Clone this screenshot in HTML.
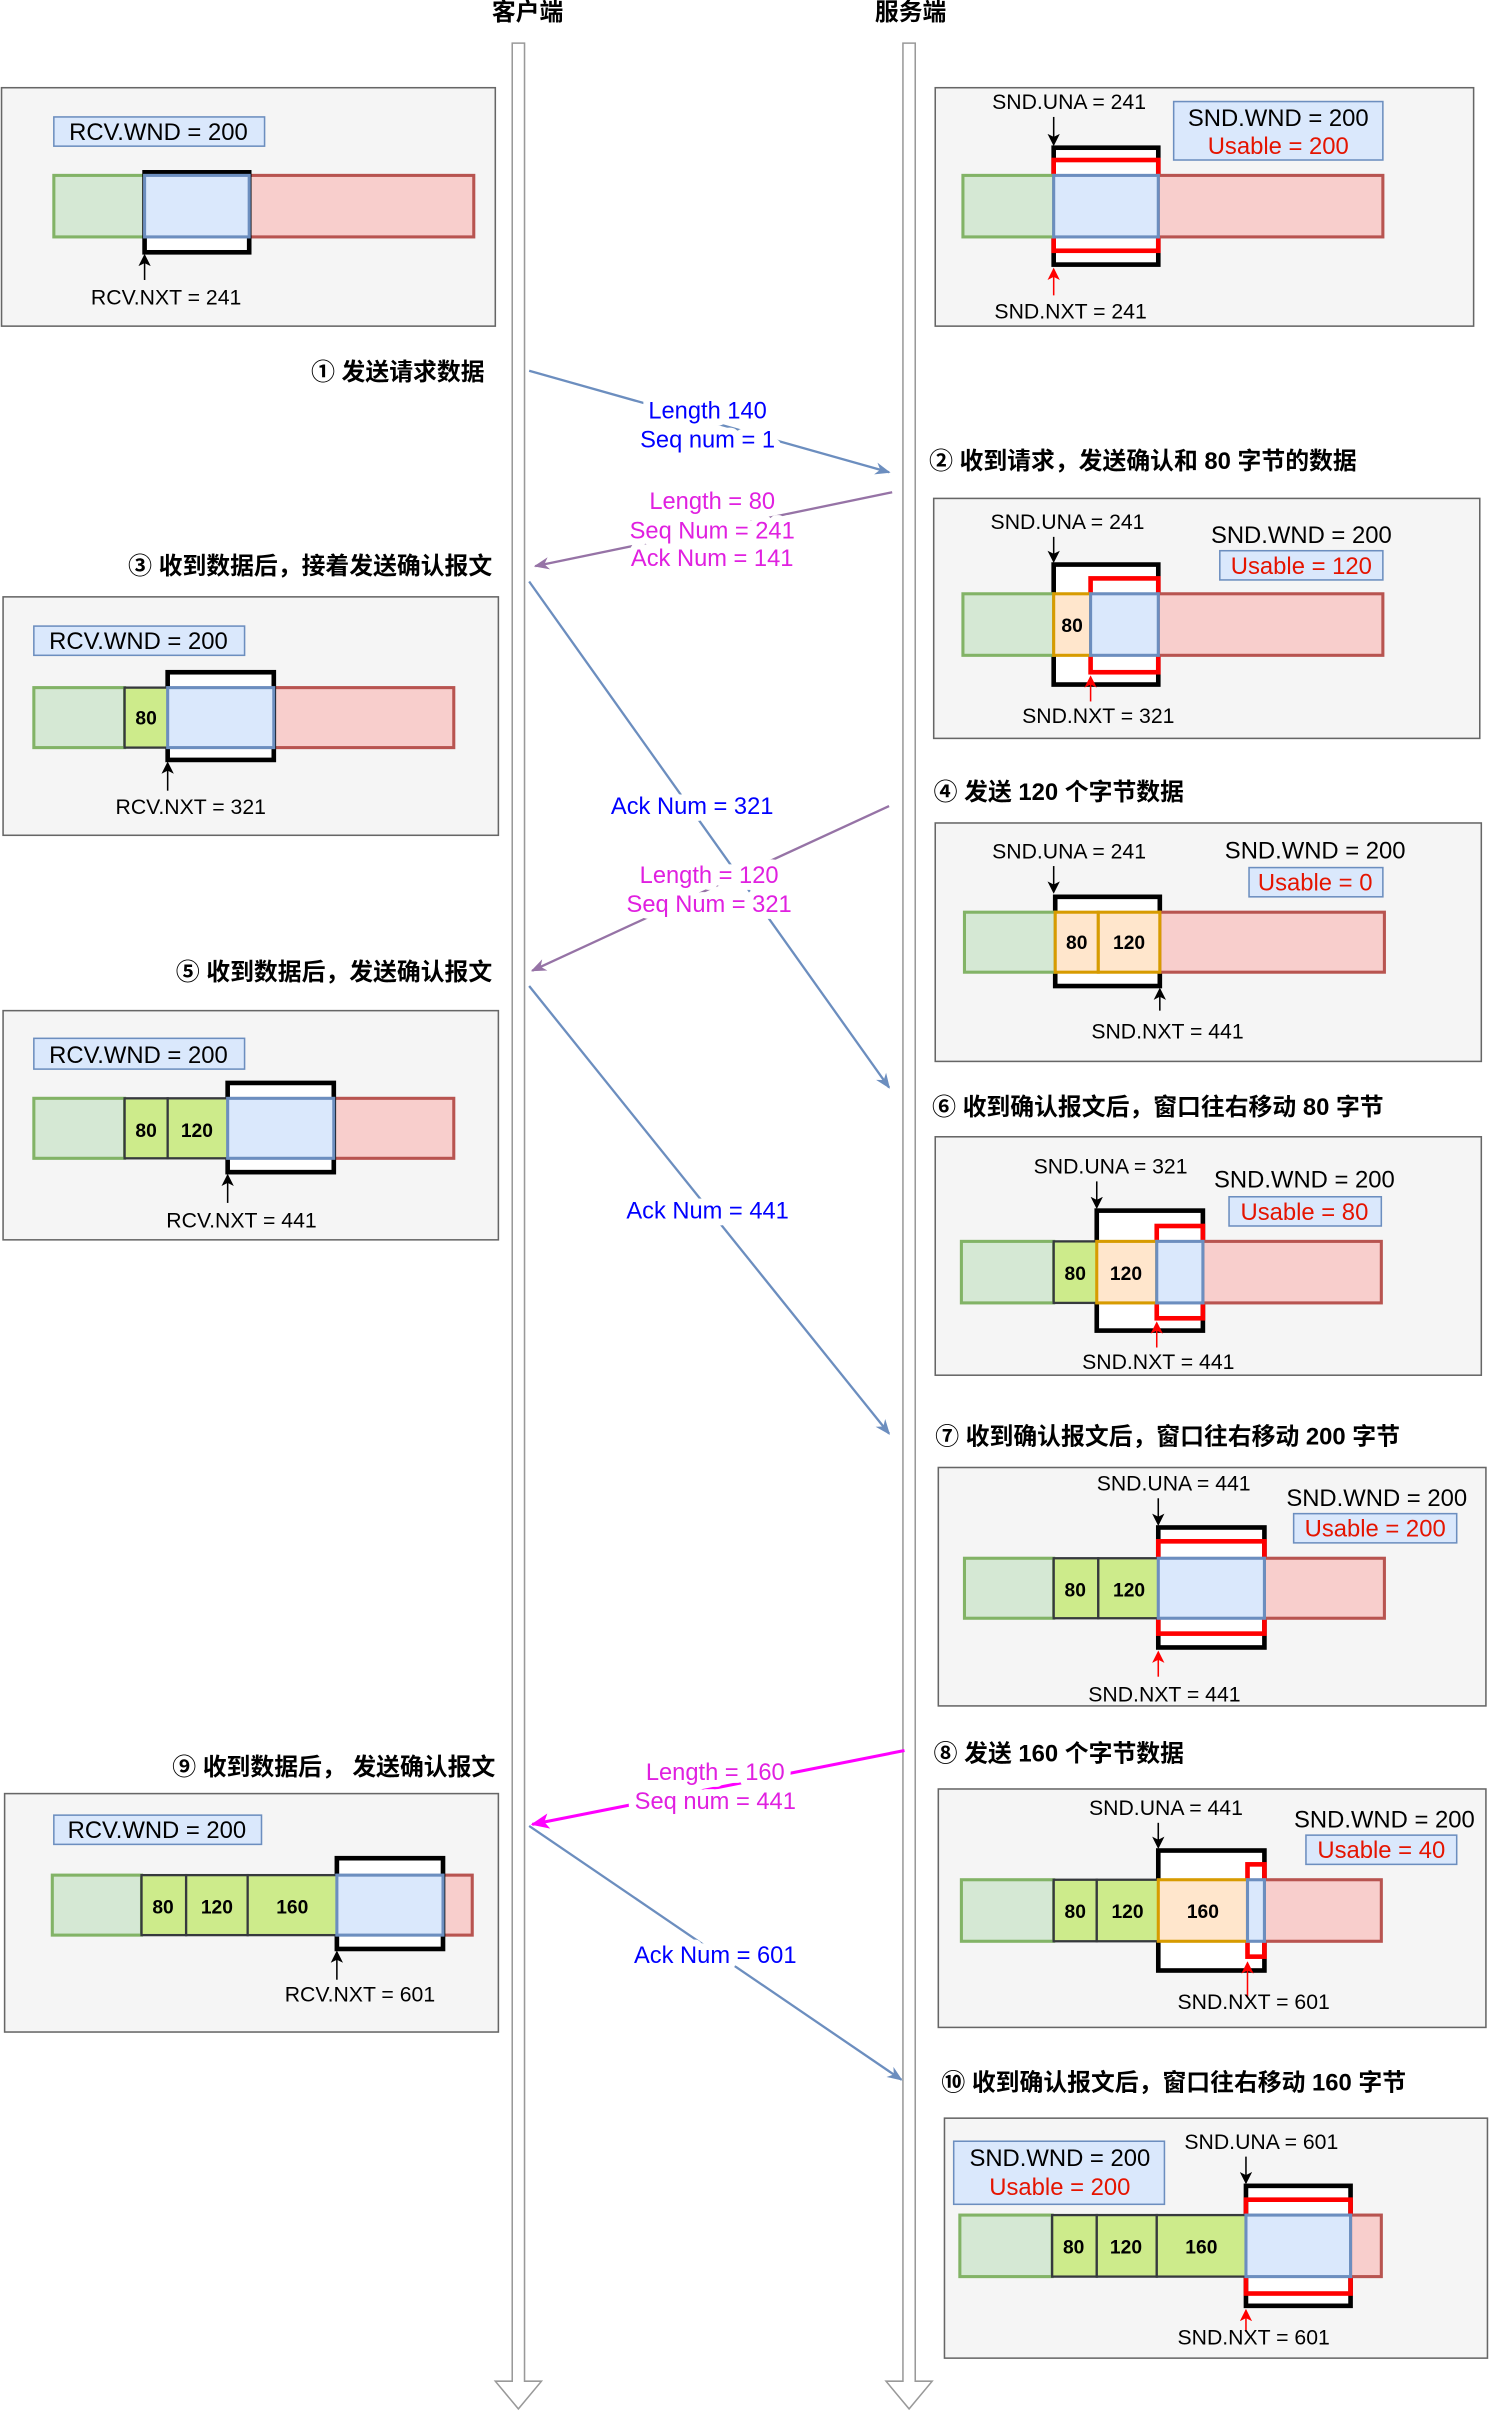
<!DOCTYPE html>
<html><head><meta charset="utf-8"><style>
html,body{margin:0;padding:0;background:#fff;}
svg{display:block;}
text{font-family:"Liberation Sans","Noto Sans CJK SC",sans-serif;}
.t{fill:#000;}
.s{font-size:13.8px;fill:#000;}
.h{font-size:15.5px;font-weight:bold;fill:#000;}
.n{font-size:12.5px;fill:#000;text-anchor:middle;font-weight:bold;}
.p{fill:#f5f5f5;stroke:#666;stroke-width:1;}
.g{fill:#d5e8d4;stroke:#82b366;stroke-width:2;}
.b{fill:#dae8fc;stroke:#6c8ebf;stroke-width:2;}
.r{fill:#f8cecc;stroke:#b85450;stroke-width:2;}
.lg{fill:#cdeb8b;stroke:#36393d;stroke-width:1.5;}
.o{fill:#ffe6cc;stroke:#d79b00;stroke-width:2;}
.w{fill:#fff;stroke:#000;stroke-width:3;}
.rw{fill:none;stroke:#ff0000;stroke-width:3;}
.lb{fill:#dae8fc;stroke:#6c8ebf;stroke-width:1;}
.c{text-anchor:middle;}
.e{text-anchor:end;}
.L{font-size:15.5px;}
.lab{font-size:15.4px;paint-order:stroke;stroke:#fff;stroke-width:9px;stroke-linejoin:round;text-anchor:middle;}
</style></head><body>
<svg width="1489" height="2412" viewBox="0 0 968 1568" xmlns="http://www.w3.org/2000/svg">
<defs>
<marker id="ab" markerWidth="10" markerHeight="10" refX="9" refY="5" orient="auto" markerUnits="userSpaceOnUse"><path d="M0,1 L10,5 L0,9 L3,5 z" fill="#6c8ebf"/></marker>
<marker id="ap" markerWidth="10" markerHeight="10" refX="9" refY="5" orient="auto" markerUnits="userSpaceOnUse"><path d="M0,1 L10,5 L0,9 L3,5 z" fill="#9673a6"/></marker>
<marker id="am" markerWidth="12" markerHeight="12" refX="11" refY="6" orient="auto" markerUnits="userSpaceOnUse"><path d="M0,1 L12,6 L0,11 L3,6 z" fill="#ff00ff"/></marker>
<marker id="ak" markerWidth="8" markerHeight="8" refX="7" refY="4" orient="auto" markerUnits="userSpaceOnUse"><path d="M0,0 L8,4 L0,8 L2,4 z" fill="#000"/></marker>
<marker id="ar" markerWidth="8" markerHeight="8" refX="7" refY="4" orient="auto" markerUnits="userSpaceOnUse"><path d="M0,0 L8,4 L0,8 L2,4 z" fill="#f00"/></marker>
</defs>

<text x="343" y="13" class="h c">客户端</text>
<text x="592" y="13" class="h c">服务端</text>

<path d="M333,28 L341,28 L341,1548 L352,1548 L337,1566 L322,1548 L333,1548 Z" fill="#fff" stroke="#999" stroke-width="1"/>
<path d="M587,28 L595,28 L595,1548 L606,1548 L591,1566 L576,1548 L587,1548 Z" fill="#fff" stroke="#999" stroke-width="1"/>

<!-- P1 client -->
<rect x="1" y="57" width="321" height="155" class="p"/>
<rect x="35" y="76" width="137" height="19" class="lb"/>
<text x="103" y="91" class="L c">RCV.WND = 200</text>
<rect x="35" y="114" width="59" height="40" class="g"/>
<rect x="162" y="114" width="146" height="40" class="r"/>
<rect x="94" y="112" width="68" height="52" class="w"/>
<rect x="94" y="114" width="68" height="40" class="b"/>
<line x1="94" y1="182" x2="94" y2="166" stroke="#000" marker-end="url(#ak)"/>
<text x="108" y="198" class="s c">RCV.NXT = 241</text>

<!-- P2 server -->
<rect x="608" y="57" width="350" height="155" class="p"/>
<text x="695" y="71" class="s c">SND.UNA = 241</text>
<line x1="685" y1="76" x2="685" y2="94" stroke="#000" marker-end="url(#ak)"/>
<rect x="685" y="96" width="68" height="76" class="w"/>
<rect x="685" y="104" width="68" height="59" class="rw"/>
<rect x="626" y="114" width="59" height="40" class="g"/>
<rect x="753" y="114" width="146" height="40" class="r"/>
<rect x="685" y="114" width="68" height="40" class="b"/>
<rect x="763" y="66" width="136" height="38" class="lb"/>
<text x="831" y="82" class="L c">SND.WND = 200</text>
<text x="831" y="100" class="L c" style="fill:#e51400">Usable = 200</text>
<line x1="685" y1="192" x2="685" y2="175" stroke="#f00" marker-end="url(#ar)"/>
<text x="696" y="207" class="s c">SND.NXT = 241</text>

<!-- step 1 -->
<text x="315" y="247" class="h e">① 发送请求数据</text>
<line x1="344" y1="241" x2="578" y2="307" stroke="#6c8ebf" stroke-width="1.5" marker-end="url(#ab)"/>
<text x="460" y="272" class="lab" fill="#0000ff">Length 140</text>
<text x="460" y="291" class="lab" fill="#0000ff">Seq num = 1</text>

<!-- step 2 -->
<text x="604" y="305" class="h">② 收到请求，发送确认和 80 字节的数据</text>
<line x1="580" y1="320" x2="348" y2="368" stroke="#9673a6" stroke-width="1.5" marker-end="url(#ap)"/>
<text x="463" y="331" class="lab" fill="#e020e0">Length = 80</text>
<text x="463" y="350" class="lab" fill="#e020e0">Seq Num = 241</text>
<text x="463" y="368" class="lab" fill="#e020e0">Ack Num = 141</text>

<!-- P3 server -->
<rect x="607" y="324" width="355" height="156" class="p"/>
<text x="694" y="344" class="s c">SND.UNA = 241</text>
<line x1="685" y1="349" x2="685" y2="365" stroke="#000" marker-end="url(#ak)"/>
<rect x="685" y="367" width="68" height="78" class="w"/>
<rect x="709" y="376" width="44" height="61" class="rw"/>
<rect x="626" y="386" width="59" height="40" class="g"/>
<rect x="753" y="386" width="146" height="40" class="r"/>
<rect x="685" y="386" width="24" height="40" class="o"/>
<text x="697" y="411" class="n">80</text>
<rect x="709" y="386" width="44" height="40" class="b"/>
<text x="846" y="353" class="L c">SND.WND = 200</text>
<rect x="793" y="358" width="106" height="19" class="lb"/>
<text x="846" y="373" class="L c" style="fill:#e51400">Usable = 120</text>
<line x1="709" y1="456" x2="709" y2="440" stroke="#f00" marker-end="url(#ar)"/>
<text x="714" y="470" class="s c">SND.NXT = 321</text>

<!-- step 3 -->
<text x="320" y="373" class="h e">③ 收到数据后，接着发送确认报文</text>
<rect x="2" y="388" width="322" height="155" class="p"/>
<rect x="22" y="407" width="137" height="19" class="lb"/>
<text x="90" y="422" class="L c">RCV.WND = 200</text>
<rect x="22" y="447" width="59" height="39" class="g"/>
<rect x="178" y="447" width="117" height="39" class="r"/>
<rect x="109" y="437" width="69" height="57" class="w"/>
<rect x="81" y="447" width="28" height="39" class="lg"/>
<text x="95" y="471" class="n">80</text>
<rect x="109" y="447" width="69" height="39" class="b"/>
<line x1="109" y1="514" x2="109" y2="496" stroke="#000" marker-end="url(#ak)"/>
<text x="124" y="529" class="s c">RCV.NXT = 321</text>

<line x1="344" y1="378" x2="578" y2="707" stroke="#6c8ebf" stroke-width="1.5" marker-end="url(#ab)"/>
<text x="450" y="529" class="lab" fill="#0000ff">Ack Num = 321</text>

<!-- step 4 -->
<text x="607" y="520" class="h">④ 发送 120 个字节数据</text>
<line x1="578" y1="524" x2="346" y2="631" stroke="#9673a6" stroke-width="1.5" marker-end="url(#ap)"/>
<text x="461" y="574" class="lab" fill="#e020e0">Length = 120</text>
<text x="461" y="593" class="lab" fill="#e020e0">Seq Num = 321</text>

<rect x="608" y="535" width="355" height="155" class="p"/>
<text x="695" y="558" class="s c">SND.UNA = 241</text>
<line x1="685" y1="563" x2="685" y2="580" stroke="#000" marker-end="url(#ak)"/>
<rect x="686" y="583" width="68" height="58" class="w"/>
<rect x="627" y="593" width="59" height="39" class="g"/>
<rect x="754" y="593" width="146" height="39" class="r"/>
<rect x="686" y="593" width="28" height="39" class="o"/>
<text x="700" y="617" class="n">80</text>
<rect x="714" y="593" width="40" height="39" class="o"/>
<text x="734" y="617" class="n">120</text>
<text x="855" y="558" class="L c">SND.WND = 200</text>
<rect x="812" y="564" width="87" height="19" class="lb"/>
<text x="855" y="579" class="L c" style="fill:#e51400">Usable = 0</text>
<line x1="754" y1="657" x2="754" y2="643" stroke="#000" marker-end="url(#ak)"/>
<text x="759" y="675" class="s c">SND.NXT = 441</text>

<!-- step 5 -->
<text x="320" y="637" class="h e">⑤ 收到数据后，发送确认报文</text>
<rect x="2" y="657" width="322" height="149" class="p"/>
<rect x="22" y="675" width="137" height="20" class="lb"/>
<text x="90" y="691" class="L c">RCV.WND = 200</text>
<rect x="22" y="714" width="59" height="39" class="g"/>
<rect x="217" y="714" width="78" height="39" class="r"/>
<rect x="148" y="704" width="69" height="58" class="w"/>
<rect x="81" y="714" width="28" height="39" class="lg"/>
<text x="95" y="739" class="n">80</text>
<rect x="109" y="714" width="39" height="39" class="lg"/>
<text x="128" y="739" class="n">120</text>
<rect x="148" y="714" width="69" height="39" class="b"/>
<line x1="148" y1="782" x2="148" y2="764" stroke="#000" marker-end="url(#ak)"/>
<text x="157" y="798" class="s c">RCV.NXT = 441</text>

<line x1="344" y1="641" x2="578" y2="932" stroke="#6c8ebf" stroke-width="1.5" marker-end="url(#ab)"/>
<text x="460" y="792" class="lab" fill="#0000ff">Ack Num = 441</text>

<!-- step 6 -->
<text x="606" y="725" class="h">⑥ 收到确认报文后，窗口往右移动 80 字节</text>
<rect x="608" y="739" width="355" height="155" class="p"/>
<text x="722" y="763" class="s c">SND.UNA = 321</text>
<line x1="713" y1="768" x2="713" y2="785" stroke="#000" marker-end="url(#ak)"/>
<rect x="713" y="787" width="69" height="78" class="w"/>
<rect x="752" y="797" width="30" height="60" class="rw"/>
<rect x="625" y="807" width="60" height="40" class="g"/>
<rect x="782" y="807" width="116" height="40" class="r"/>
<rect x="685" y="807" width="28" height="40" class="lg"/>
<text x="699" y="832" class="n">80</text>
<rect x="713" y="807" width="39" height="40" class="o"/>
<text x="732" y="832" class="n">120</text>
<rect x="752" y="807" width="30" height="40" class="b"/>
<text x="848" y="772" class="L c">SND.WND = 200</text>
<rect x="799" y="778" width="99" height="19" class="lb"/>
<text x="848" y="793" class="L c" style="fill:#e51400">Usable = 80</text>
<line x1="752" y1="876" x2="752" y2="860" stroke="#f00" marker-end="url(#ar)"/>
<text x="753" y="890" class="s c">SND.NXT = 441</text>

<!-- step 7 -->
<text x="608" y="939" class="h">⑦ 收到确认报文后，窗口往右移动 200 字节</text>
<rect x="610" y="954" width="356" height="155" class="p"/>
<text x="763" y="969" class="s c">SND.UNA = 441</text>
<line x1="753" y1="974" x2="753" y2="991" stroke="#000" marker-end="url(#ak)"/>
<rect x="753" y="993" width="69" height="78" class="w"/>
<rect x="753" y="1002" width="69" height="60" class="rw"/>
<rect x="627" y="1013" width="58" height="39" class="g"/>
<rect x="822" y="1013" width="78" height="39" class="r"/>
<rect x="685" y="1013" width="29" height="39" class="lg"/>
<text x="699" y="1038" class="n">80</text>
<rect x="714" y="1013" width="39" height="39" class="lg"/>
<text x="734" y="1038" class="n">120</text>
<rect x="753" y="1013" width="69" height="39" class="b"/>
<text x="895" y="979" class="L c">SND.WND = 200</text>
<rect x="841" y="984" width="106" height="19" class="lb"/>
<text x="894" y="999" class="L c" style="fill:#e51400">Usable = 200</text>
<line x1="753" y1="1090" x2="753" y2="1074" stroke="#f00" marker-end="url(#ar)"/>
<text x="757" y="1106" class="s c">SND.NXT = 441</text>

<!-- step 8 -->
<text x="607" y="1145" class="h">⑧ 发送 160 个字节数据</text>
<line x1="588" y1="1138" x2="346" y2="1186" stroke="#ff00ff" stroke-width="2" marker-end="url(#am)"/>
<text x="465" y="1157" class="lab" fill="#e020e0">Length = 160</text>
<text x="465" y="1176" class="lab" fill="#e020e0">Seq num = 441</text>

<rect x="610" y="1163" width="356" height="155" class="p"/>
<text x="758" y="1180" class="s c">SND.UNA = 441</text>
<line x1="753" y1="1185" x2="753" y2="1201" stroke="#000" marker-end="url(#ak)"/>
<rect x="753" y="1203" width="69" height="78" class="w"/>
<rect x="811" y="1212" width="11" height="60" class="rw"/>
<rect x="625" y="1222" width="60" height="40" class="g"/>
<rect x="822" y="1222" width="76" height="40" class="r"/>
<rect x="685" y="1222" width="28" height="40" class="lg"/>
<text x="699" y="1247" class="n">80</text>
<rect x="713" y="1222" width="40" height="40" class="lg"/>
<text x="733" y="1247" class="n">120</text>
<rect x="753" y="1222" width="58" height="40" class="o"/>
<text x="782" y="1247" class="n">160</text>
<rect x="811" y="1222" width="11" height="40" class="b"/>
<text x="900" y="1188" class="L c">SND.WND = 200</text>
<rect x="849" y="1193" width="98" height="19" class="lb"/>
<text x="898" y="1208" class="L c" style="fill:#e51400">Usable = 40</text>
<line x1="811" y1="1298" x2="811" y2="1276" stroke="#f00" marker-end="url(#ar)"/>
<text x="815" y="1306" class="s c">SND.NXT = 601</text>

<!-- step 9 -->
<text x="322" y="1154" class="h e">⑨ 收到数据后， 发送确认报文</text>
<rect x="3" y="1166" width="321" height="155" class="p"/>
<rect x="35" y="1180" width="135" height="19" class="lb"/>
<text x="102" y="1195" class="L c">RCV.WND = 200</text>
<rect x="34" y="1219" width="58" height="39" class="g"/>
<rect x="288" y="1219" width="19" height="39" class="r"/>
<rect x="219" y="1208" width="69" height="59" class="w"/>
<rect x="92" y="1219" width="29" height="39" class="lg"/>
<text x="106" y="1244" class="n">80</text>
<rect x="121" y="1219" width="40" height="39" class="lg"/>
<text x="141" y="1244" class="n">120</text>
<rect x="161" y="1219" width="58" height="39" class="lg"/>
<text x="190" y="1244" class="n">160</text>
<rect x="219" y="1219" width="69" height="39" class="b"/>
<line x1="219" y1="1287" x2="219" y2="1269" stroke="#000" marker-end="url(#ak)"/>
<text x="234" y="1301" class="s c">RCV.NXT = 601</text>

<line x1="344" y1="1187" x2="586" y2="1352" stroke="#6c8ebf" stroke-width="1.5" marker-end="url(#ab)"/>
<text x="465" y="1276" class="lab" fill="#0000ff">Ack Num = 601</text>

<!-- step 10 -->
<text x="612" y="1359" class="h">⑩ 收到确认报文后，窗口往右移动 160 字节</text>
<rect x="614" y="1377" width="353" height="156" class="p"/>
<rect x="620" y="1392" width="137" height="41" class="lb"/>
<text x="689" y="1408" class="L c">SND.WND = 200</text>
<text x="689" y="1427" class="L c" style="fill:#e51400">Usable = 200</text>
<text x="820" y="1397" class="s c">SND.UNA = 601</text>
<line x1="810" y1="1402" x2="810" y2="1419" stroke="#000" marker-end="url(#ak)"/>
<rect x="810" y="1421" width="68" height="78" class="w"/>
<rect x="810" y="1430" width="68" height="61" class="rw"/>
<rect x="624" y="1440" width="60" height="40" class="g"/>
<rect x="878" y="1440" width="20" height="40" class="r"/>
<rect x="684" y="1440" width="29" height="40" class="lg"/>
<text x="698" y="1465" class="n">80</text>
<rect x="713" y="1440" width="39" height="40" class="lg"/>
<text x="732" y="1465" class="n">120</text>
<rect x="752" y="1440" width="58" height="40" class="lg"/>
<text x="781" y="1465" class="n">160</text>
<rect x="810" y="1440" width="68" height="40" class="b"/>
<line x1="810" y1="1516" x2="810" y2="1502" stroke="#f00" marker-end="url(#ar)"/>
<text x="815" y="1524" class="s c">SND.NXT = 601</text>
</svg>
</body></html>
